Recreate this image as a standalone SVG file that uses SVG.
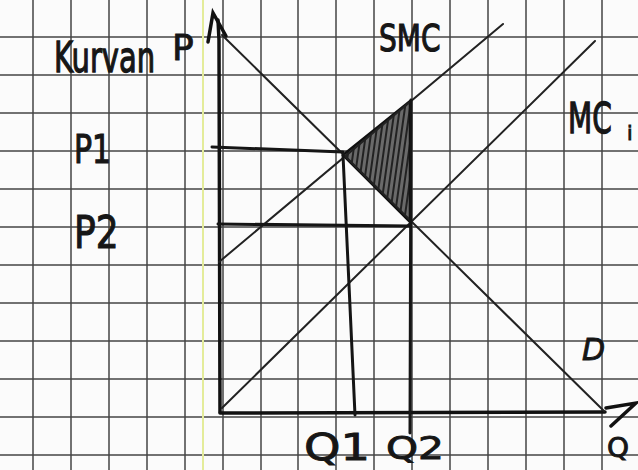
<svg xmlns="http://www.w3.org/2000/svg" width="638" height="470" viewBox="0 0 638 470">
<style>
.grid line{stroke:#444;stroke-width:1.5}
.axis{stroke:#111;stroke-width:3.5;fill:none;stroke-linecap:round}
.curve{stroke:#222;stroke-width:2;fill:none;stroke-linecap:round}
.guide{stroke:#151515;stroke-width:3;fill:none;stroke-linecap:round}
.lbl{font-family:"DejaVu Sans","Liberation Sans",sans-serif;fill:#161616;stroke:#161616;stroke-width:0.9}
</style>
<defs>
<pattern id="hatch" width="5" height="5" patternUnits="userSpaceOnUse" patternTransform="rotate(8)">
<rect width="5" height="5" fill="#6a6a6a"/>
<line x1="1" y1="0" x2="1" y2="5" stroke="#222" stroke-width="2"/>
</pattern>
</defs>
<rect width="638" height="470" fill="#fbfbfb"/>
<g id="grid" class="grid">
<line x1="33" y1="0" x2="33" y2="470"/><line x1="71" y1="0" x2="71" y2="470"/><line x1="109" y1="0" x2="109" y2="470"/><line x1="147" y1="0" x2="147" y2="470"/><line x1="185" y1="0" x2="185" y2="470"/><line x1="223" y1="0" x2="223" y2="470"/><line x1="261" y1="0" x2="261" y2="470"/><line x1="298" y1="0" x2="298" y2="470"/><line x1="336" y1="0" x2="336" y2="470"/><line x1="374" y1="0" x2="374" y2="470"/><line x1="412" y1="0" x2="412" y2="470"/><line x1="450" y1="0" x2="450" y2="470"/><line x1="488" y1="0" x2="488" y2="470"/><line x1="526" y1="0" x2="526" y2="470"/><line x1="564" y1="0" x2="564" y2="470"/><line x1="602" y1="0" x2="602" y2="470"/>
<line x1="0" y1="37" x2="638" y2="37"/><line x1="0" y1="75" x2="638" y2="75"/><line x1="0" y1="113" x2="638" y2="113"/><line x1="0" y1="151" x2="638" y2="151"/><line x1="0" y1="189" x2="638" y2="189"/><line x1="0" y1="227" x2="638" y2="227"/><line x1="0" y1="265" x2="638" y2="265"/><line x1="0" y1="303" x2="638" y2="303"/><line x1="0" y1="341" x2="638" y2="341"/><line x1="0" y1="379" x2="638" y2="379"/><line x1="0" y1="417" x2="638" y2="417"/><line x1="0" y1="455" x2="638" y2="455"/>
</g>
<line x1="203" y1="0" x2="203" y2="470" stroke="#e4ec9a" stroke-width="2"/>
<g id="shaded-area">
<polygon points="343,155 410,101 410,222" fill="url(#hatch)" stroke="#111" stroke-width="2.5"/>
</g>
<g id="connectors">
<polyline class="axis" points="220,412 219,40 218,20"/>
<polyline class="axis" points="208,42 213,13 226,36"/>
<line class="axis" x1="220" y1="413" x2="605" y2="412"/>
<polyline class="axis" points="606,408 636,403 611,426"/>
<line id="demand" class="curve" x1="222" y1="35" x2="604" y2="411"/>
<line id="smc" class="curve" x1="219" y1="262" x2="503" y2="24"/>
<line id="mc" class="curve" x1="222" y1="408" x2="595" y2="41"/>
<line class="guide" x1="212" y1="147" x2="343" y2="152"/>
<line class="guide" x1="218" y1="224" x2="410" y2="226"/>
<line class="guide" x1="343" y1="155" x2="355" y2="415"/>
<line class="guide" x1="411" y1="100" x2="410" y2="433"/>
</g>
<g id="labels">
<text class="lbl" transform="translate(54,72) scale(1,1.45)" font-size="29">Kurvan</text>
<text class="lbl" x="172" y="60" font-size="36">P</text>
<text class="lbl" transform="translate(74,163) scale(1,1.3)" font-size="30">P1</text>
<text class="lbl" transform="translate(74,248) scale(1,1.25)" font-size="36">P2</text>
<text class="lbl" transform="translate(379,51) scale(1,1.35)" font-size="28">SMC</text>
<text class="lbl" transform="translate(568,133) scale(1,1.5)" font-size="28">MC</text>
<text class="lbl" x="627" y="140" font-size="20">i</text>
<text class="lbl" x="582" y="360" font-size="30" font-style="italic">D</text>
<text class="lbl" x="304" y="460" font-size="38" textLength="66" lengthAdjust="spacingAndGlyphs">Q1</text>
<text class="lbl" x="386" y="459" font-size="32" textLength="58" lengthAdjust="spacingAndGlyphs">Q2</text>
<text class="lbl" x="607" y="457" font-size="26" textLength="22" lengthAdjust="spacingAndGlyphs">Q</text>
</g>
</svg>
